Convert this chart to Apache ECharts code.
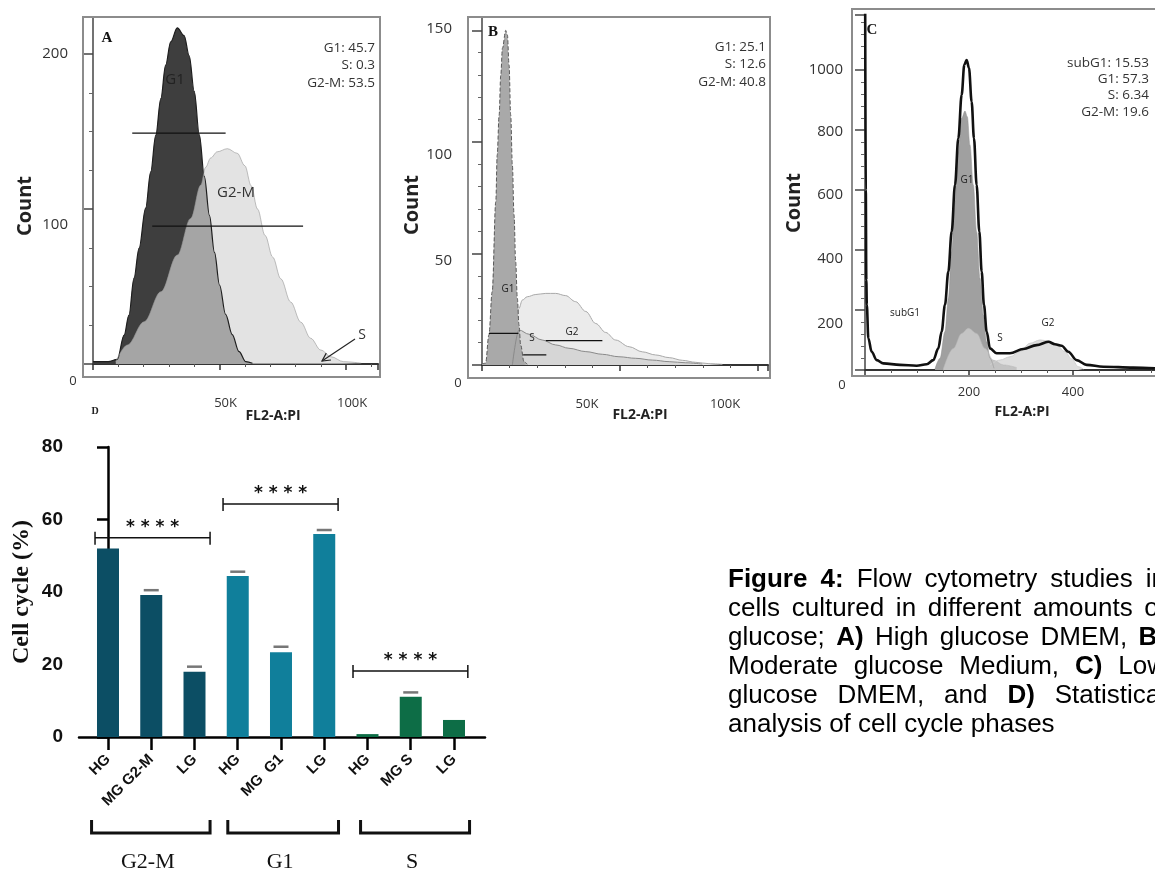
<!DOCTYPE html>
<html>
<head>
<meta charset="utf-8">
<script src="https://cdn.jsdelivr.net/npm/echarts@6/dist/echarts.min.js"></script>
<style>
  html, body { margin: 0; padding: 0; background: #fff; }
  #chart { width: 1155px; height: 871px; }
</style>
</head>
<body>
<div id="chart"></div>
<script>
// ---- panel A (high glucose): x in K units, y = count
var aG1 = [[0,1.5],[6,1.5],[9.6,3],[12.3,18.7],[14.2,31.6],[16.2,55.5],[18.2,74.8],[20.8,100.6],[22.8,124],[24.8,147.7],[26.8,171.4],[28.7,192.9],[30.7,208],[33.3,217],[36,212],[38,199],[40,176],[42,148],[44,121],[46,96],[48,72],[50,51],[52.4,32],[55,19],[57.7,8],[60.4,1.5],[63,0.5]];
var aG2M = [[9,1.5],[13.6,12.3],[20.2,27.3],[26.8,46.6],[33.3,70.3],[38.6,94],[42.6,115.5],[44.5,127],[46.5,133],[49.1,137],[53.1,139],[57,136],[60,128],[62.5,115],[65,100],[68,83],[71,69],[74.2,55],[78.1,40],[82.1,27],[86,16.6],[90,9],[94,4.7],[99,1.5],[106,0.5]];
var aGates = [[15.5, 52.4, 149], [23.4, 83, 89]];   // [from, to, count]

// ---- panel B (moderate glucose)
var bG1 = [[0,0.5],[1.3,0.8],[2.5,13.5],[3.7,32.9],[5.0,73.2],[5.5,94],[6.2,112],[6.8,130],[7.4,142],[8.6,150],[9.2,148],[9.8,134.5],[10.4,112],[11.0,89.7],[11.6,67.3],[12.2,46.3],[12.8,29.9],[13.4,17.9],[14.0,9],[15.2,1.5],[16.4,0.3]];
var bG2 = [[11,0],[13.4,25.4],[14.6,29.1],[16.4,30.6],[19.5,31.6],[23.1,32.1],[26.7,32.1],[30.3,31.1],[33.9,28.4],[37.6,24],[41.2,18.6],[44.8,14.6],[48.4,11.2],[53.3,8.2],[58.1,5.9],[62.9,4.5],[67.8,3.3],[72.6,2.1],[77.4,1.2],[82.2,0.6],[87.1,0.3]];
var bS = [[11,0],[13.4,15.7],[17.0,13.8],[21.8,11.2],[26.7,9.0],[31.5,7.5],[37.6,6.0],[43.6,4.8],[49.6,3.7],[55.7,3.0],[61.7,2.2],[67.8,1.5],[73.8,1.0],[79.8,0.4]];
var bGates = [[2.5, 13.2, 14.2], [14.9, 23.3, 4.5], [23.1, 43.6, 10.9]];

// ---- panel C (low glucose): x in channel units
var cTotal = [[0.3,1250],[1.5,600],[2.5,300],[3.5,217],[6.4,106],[12.8,61],[22.4,33],[35.3,22],[67.3,17],[99.4,14.4],[118.6,19],[131.4,33],[141,72],[147.4,128],[153.8,217],[160.3,328],[166.7,461],[173.1,617],[179.5,772],[185.9,917],[191,1017],[195.5,1033],[200,1006],[205.1,894],[209.6,772],[214.7,617],[219.9,461],[224.4,328],[228.8,217],[234,128],[240.4,72],[253.2,56],[278.8,56],[304.5,70],[330.1,83],[352.6,94],[365.4,86],[378.2,81],[391,61],[407,33],[426.3,17],[458.3,11],[516,8],[557.7,5.6]];
var cG1 = [[134.6,3.3],[144.2,39],[153.8,128],[160.3,239],[166.7,394],[173.1,561],[179.5,728],[185.9,839],[192.3,863],[196.8,844],[201.9,750],[208.3,617],[214.7,461],[221.2,306],[227.6,183],[234,94],[240.4,39],[248.1,5.6]];
var cS = [[150.6,3],[169.9,72],[185.9,122],[198.7,139],[214.7,122],[230.8,72],[246.8,33],[266,17],[291.7,8]];
var cG2 = [[240.4,16.7],[259.6,33],[278.8,44],[298,61],[317.3,89],[336.5,100],[352.6,97],[368.6,83],[384.6,61],[397.4,37],[410.3,11],[420,3]];

// ---- panel D: bar chart
var barCats = ['HG', 'MG G2-M', 'LG', 'HG', 'MG  G1', 'LG', 'HG', 'MG S', 'LG'];
var barVals = [52, 39.2, 18, 44.4, 23.4, 56, 0.8, 11.1, 4.7];
var errVals = [null, 40.5, 19.4, 45.6, 24.9, 57.1, null, 12.3, null];
var barPhase = [0, 0, 0, 1, 1, 1, 2, 2, 2];
var phaseNames = ['G2-M', 'G1', 'S'];
var groupSpans = [[-0.38, 2.36], [2.77, 5.33], [5.84, 8.36]];
var sigSpans = [[-0.3, 2.36, 55], [2.66, 5.32, 64.3], [5.665, 8.32, 18.2]];

var captionLines = [
  [['Figure', 1], ['4:', 1], ['Flow', 0], ['cytometry', 0], ['studies', 0], ['in', 0]],
  [['cells', 0], ['cultured', 0], ['in', 0], ['different', 0], ['amounts', 0], ['of', 0]],
  [['glucose;', 0], ['A)', 1], ['High', 0], ['glucose', 0], ['DMEM,', 0], ['B)', 1]],
  [['Moderate', 0], ['glucose', 0], ['Medium,', 0], ['C)', 1], ['Low', 0]],
  [['glucose', 0], ['DMEM,', 0], ['and', 0], ['D)', 1], ['Statistical', 0]],
  [['analysis', 0], ['of', 0], ['cell', 0], ['cycle', 0], ['phases', 0]]
];

var phaseColors = ['#0c4e64', '#107f9b', '#0d6d46'];
var flowFont = 'Open Sans';

var chart = echarts.init(document.getElementById('chart'));

function histX(gi, max, interval, split, fmt, pad, margin) {
  return {
    type: 'value', gridIndex: gi, min: 0, max: max, interval: interval,
    axisLine: { show: true, onZero: false, lineStyle: { color: '#333', width: 2 } },
    axisTick: { show: true, length: 6, lineStyle: { color: '#333', width: 1.5 } },
    minorTick: { show: true, splitNumber: split, length: 3, lineStyle: { color: '#555', width: 1 } },
    splitLine: { show: false },
    axisLabel: { formatter: fmt, margin: margin, padding: pad, color: '#333', fontFamily: flowFont, fontSize: 13 }
  };
}

function histY(gi, max, interval, split, shifts, margin) {
  var rich = {};
  Object.keys(shifts).forEach(function(k) {
    var d = shifts[k];
    rich['d' + k] = { fontSize: 15, fontFamily: flowFont, color: '#333', padding: d >= 0 ? [2 * d, 0, 0, 0] : [0, 0, -2 * d, 0] };
  });
  return {
    type: 'value', gridIndex: gi, min: 0, max: max, interval: interval,
    axisLine: { show: true, lineStyle: { color: '#444', width: 1.5 } },
    axisTick: { show: true, length: 10, lineStyle: { color: '#444', width: 1.5 } },
    minorTick: { show: true, splitNumber: split, length: 4, lineStyle: { color: '#666', width: 1 } },
    splitLine: { show: false },
    axisLabel: {
      margin: margin, rich: rich,
      formatter: function(v) { return (v in shifts) ? '{d' + v + '|' + v + '}' : ''; }
    }
  };
}

function area(ai, data, fill, opacity, lineColor, lineWidth, lineType) {
  var s = {
    type: 'line', xAxisIndex: ai, yAxisIndex: ai, data: data,
    smooth: 0.35, smoothMonotone: 'x', symbol: 'none', showSymbol: false, silent: true,
    lineStyle: { color: lineColor, width: lineWidth, type: lineType || 'solid' }
  };
  if (fill) s.areaStyle = { color: fill, opacity: opacity };
  return s;
}

function gates(ai, list) {
  return list.map(function(g) {
    return {
      type: 'line', xAxisIndex: ai, yAxisIndex: ai, data: [[g[0], g[2]], [g[1], g[2]]],
      symbol: 'none', silent: true, z: 5, lineStyle: { color: '#111', width: 1.3 }
    };
  });
}

function txt(x, y, text, size, opts) {
  opts = opts || {};
  return {
    type: 'text', x: x, y: y, z: 100, rotation: opts.rot || 0,
    style: {
      text: text, fontSize: size, fontFamily: opts.family || flowFont,
      fontWeight: opts.bold ? 'bold' : 'normal', fill: opts.color || '#222',
      align: opts.align || 'center', verticalAlign: 'middle'
    }
  };
}

function frame(x, y, w, h) {
  return { type: 'rect', z: 1, shape: { x: x, y: y, width: w, height: h }, style: { fill: 'none', stroke: '#8c8c8c', lineWidth: 2 } };
}

function captionGraphics() {
  var ctx = document.createElement('canvas').getContext('2d');
  var size = 26, left = 728, right = 1166, top = 580, lead = 29;
  var out = [];
  captionLines.forEach(function(words, li) {
    var ws = words.map(function(w) {
      ctx.font = (w[1] ? 'bold ' : '') + size + 'px "Liberation Sans"';
      return ctx.measureText(w[0]).width;
    });
    var sum = ws.reduce(function(a, b) { return a + b; }, 0);
    ctx.font = size + 'px "Liberation Sans"';
    var gap = li < captionLines.length - 1 ? (right - left - sum) / (words.length - 1) : ctx.measureText(' ').width;
    var x = left;
    words.forEach(function(w, i) {
      out.push(txt(x, top + li * lead, w[0], size, { family: 'Liberation Sans', bold: w[1], color: '#000', align: 'left' }));
      x += ws[i] + gap;
    });
  });
  return out;
}

var kFmt = function(v) { return (v > 0 && v % 50 === 0) ? v + 'K' : ''; };
var cFmt = function(v) { return (v > 0 && v % 200 === 0) ? String(v) : ''; };

var series = [];
// A
series.push(area(0, aG1, '#3e3e3e', 1, '#1e1e1e', 1.2));
series.push(area(0, aG2M, 'rgb(214,214,214)', 0.68, 'rgba(150,150,150,0.6)', 1));
series = series.concat(gates(0, aGates));
// B
series.push(area(1, bG2, '#ebebeb', 1, '#a8a8a8', 1));
series.push(area(1, bS, '#d6d6d6', 1, '#8a8a8a', 1));
series.push(area(1, bG1, '#a9a9a9', 1, '#5a5a5a', 1, 'dashed'));
series = series.concat(gates(1, bGates));
// C
series.push(area(2, cG2, '#dedede', 1, '#cfcfcf', 1));
series.push(area(2, cG1, '#a0a0a0', 1, '#909090', 0.5));
series.push(area(2, cS, '#c4c4c4', 1, '#b8b8b8', 0.5));
series.push(area(2, cTotal, null, 1, '#111', 2.6));
// D
series.push({
  type: 'bar', xAxisIndex: 3, yAxisIndex: 3, barWidth: 22, silent: true,
  data: barVals.map(function(v, i) { return { value: [i, v], itemStyle: { color: phaseColors[barPhase[i]] } }; })
});
series.push({
  type: 'scatter', xAxisIndex: 3, yAxisIndex: 3, symbol: 'rect', symbolSize: [15, 2.5], silent: true,
  itemStyle: { color: '#555' },
  data: errVals.map(function(e, i) { return e == null ? null : [i, e]; }).filter(function(d) { return d; })
});
series.push({
  type: 'custom', xAxisIndex: 3, yAxisIndex: 3, silent: true, z: 10,
  data: sigSpans,
  renderItem: function(params, api) {
    var p1 = api.coord([api.value(0), api.value(2)]);
    var p2 = api.coord([api.value(1), api.value(2)]);
    var st = { stroke: '#111', lineWidth: 1.5, fill: 'none' };
    return { type: 'group', children: [
      { type: 'line', shape: { x1: p1[0], y1: p1[1], x2: p2[0], y2: p2[1] }, style: st },
      { type: 'line', shape: { x1: p1[0], y1: p1[1] - 6, x2: p1[0], y2: p1[1] + 7 }, style: st },
      { type: 'line', shape: { x1: p2[0], y1: p2[1] - 6, x2: p2[0], y2: p2[1] + 7 }, style: st },
      { type: 'text', x: (p1[0] + p2[0]) / 2, y: p1[1] - 10,
        style: { text: '* * * *', fontSize: 17, fontFamily: 'DejaVu Sans', fontWeight: 'bold', fill: '#111', align: 'center', verticalAlign: 'middle' } }
    ] };
  }
});
series.push({
  type: 'custom', xAxisIndex: 3, yAxisIndex: 3, silent: true, z: 10,
  data: groupSpans.map(function(s, i) { return [s[0], s[1], 0, i]; }),
  renderItem: function(params, api) {
    var p1 = api.coord([api.value(0), 0]);
    var p2 = api.coord([api.value(1), 0]);
    var y = p1[1] + 96;
    var st = { stroke: '#111', lineWidth: 3, fill: 'none' };
    return { type: 'group', children: [
      { type: 'polyline', shape: { points: [[p1[0], y - 13], [p1[0], y], [p2[0], y], [p2[0], y - 13]] }, style: st },
      { type: 'text', x: (p1[0] + p2[0]) / 2 - 3, y: p1[1] + 125,
        style: { text: phaseNames[api.value(3)], fontSize: 22, fontFamily: 'Liberation Serif', fill: '#111', align: 'center', verticalAlign: 'middle' } }
    ] };
  }
});

var graphics = [
  frame(83, 17, 297, 360), frame(468, 17, 302, 361), frame(852, 9, 310, 367),
  // panel A
  txt(107, 38, 'A', 15, { family: 'Liberation Serif', bold: true, color: '#111' }),
  txt(375, 48, 'G1: 45.7', 13.5, { align: 'right', color: '#333' }),
  txt(375, 65.5, 'S: 0.3', 13.5, { align: 'right', color: '#333' }),
  txt(375, 83, 'G2-M: 53.5', 13.5, { align: 'right', color: '#333' }),
  txt(175, 80, 'G1', 15, { color: '#222' }),
  txt(236, 193, 'G2-M', 15, { color: '#333' }),
  txt(362, 335, 'S', 14, { color: '#333' }),
  { type: 'line', z: 100, shape: { x1: 355, y1: 339, x2: 322, y2: 361 }, style: { stroke: '#222', lineWidth: 1.2 } },
  { type: 'polyline', z: 100, shape: { points: [[331, 360], [322, 361], [326.3, 353.1]] }, style: { stroke: '#222', lineWidth: 1.2, fill: 'none' } },
  txt(25, 206, 'Count', 20, { bold: true, rot: Math.PI / 2, color: '#222' }),
  txt(273, 416, 'FL2-A:PI', 14, { bold: true, color: '#222' }),
  txt(73, 381, '0', 13, { color: '#333' }),
  // panel B
  txt(493, 32, 'B', 15, { family: 'Liberation Serif', bold: true, color: '#111' }),
  txt(766, 47, 'G1: 25.1', 13.5, { align: 'right', color: '#333' }),
  txt(766, 64.5, 'S: 12.6', 13.5, { align: 'right', color: '#333' }),
  txt(766, 82, 'G2-M: 40.8', 13.5, { align: 'right', color: '#333' }),
  txt(508, 289, 'G1', 10, { color: '#222' }),
  txt(532, 338, 'S', 10, { color: '#222' }),
  txt(572, 332, 'G2', 10, { color: '#222' }),
  txt(412, 205, 'Count', 20, { bold: true, rot: Math.PI / 2, color: '#222' }),
  txt(640, 415, 'FL2-A:PI', 14, { bold: true, color: '#222' }),
  txt(458, 383, '0', 13, { color: '#333' }),
  // panel C
  txt(872, 30, 'C', 15, { family: 'Liberation Serif', bold: true, color: '#111' }),
  txt(1149, 63, 'subG1: 15.53', 13.5, { align: 'right', color: '#333' }),
  txt(1149, 79, 'G1: 57.3', 13.5, { align: 'right', color: '#333' }),
  txt(1149, 95.5, 'S: 6.34', 13.5, { align: 'right', color: '#333' }),
  txt(1149, 112, 'G2-M: 19.6', 13.5, { align: 'right', color: '#333' }),
  txt(905, 313, 'subG1', 10, { color: '#222' }),
  txt(967, 180, 'G1', 10, { color: '#222' }),
  txt(1000, 338, 'S', 10, { color: '#222' }),
  txt(1048, 323, 'G2', 10, { color: '#222' }),
  txt(794, 203, 'Count', 20, { bold: true, rot: Math.PI / 2, color: '#222' }),
  txt(1022, 412, 'FL2-A:PI', 14, { bold: true, color: '#222' }),
  txt(842, 385, '0', 13, { color: '#333' }),
  // panel D
  txt(95, 411, 'D', 10, { family: 'Liberation Serif', bold: true, color: '#222' })
].concat(captionGraphics());

var option = {
  animation: false,
  backgroundColor: '#fff',
  grid: [
    { left: 93, top: 17, width: 285, height: 347, outerBoundsMode: 'none' },
    { left: 482, top: 17, width: 286, height: 348, outerBoundsMode: 'none' },
    { left: 865, top: 15, width: 300, height: 355, outerBoundsMode: 'none' },
    { left: 79, top: 447, width: 406, height: 290, outerBoundsMode: 'none' }
  ],
  xAxis: [
    histX(0, 112.6, 50, 5, kFmt, [0, 0, 0, 12], 33),
    histX(1, 103.6, 50, 5, kFmt, [0, 66, 0, 0], 33),
    histX(2, 577, 200, 4, cFmt, 0, 16),
    {
      type: 'value', gridIndex: 3, min: -0.6705, max: 8.717,
      axisLine: { show: true, onZero: false, lineStyle: { color: '#000', width: 2.5 } },
      axisTick: { show: true, customValues: [0, 1, 2, 3, 4, 5, 6, 7, 8], length: 13, lineStyle: { color: '#000', width: 2.5 } },
      axisLabel: {
        customValues: [0, 1, 2, 3, 4, 5, 6, 7, 8], rotate: 45, margin: 20,
        formatter: function(v) { return barCats[Math.round(v)]; },
        fontFamily: 'Liberation Sans', fontWeight: 'bold', fontSize: 15, color: '#111'
      },
      splitLine: { show: false }
    }
  ],
  yAxis: [
    histY(0, 224, 100, 4, { 100: 16, 200: 0 }, 25),
    histY(1, 156, 50, 5, { 50: 7, 100: 13, 150: -2 }, 30),
    histY(2, 1183, 200, 5, { 200: 14, 400: 9, 600: 5, 800: 2, 1000: 0 }, 22),
    {
      type: 'value', gridIndex: 3, min: 0, max: 80, interval: 20,
      axisLine: { show: true, lineStyle: { color: '#000', width: 2.5 } },
      axisTick: { show: true, length: 11, lineStyle: { color: '#000', width: 2.5 } },
      splitLine: { show: false },
      axisLabel: { margin: 16, fontFamily: 'Liberation Sans', fontWeight: 'bold', fontSize: 19, color: '#111' },
      name: 'Cell cycle (%)', nameLocation: 'middle', nameGap: 45,
      nameTextStyle: { fontFamily: 'Liberation Serif', fontWeight: 'bold', fontSize: 24, color: '#111' }
    }
  ],
  series: series,
  graphic: graphics
};

chart.setOption(option);
</script>
</body>
</html>
